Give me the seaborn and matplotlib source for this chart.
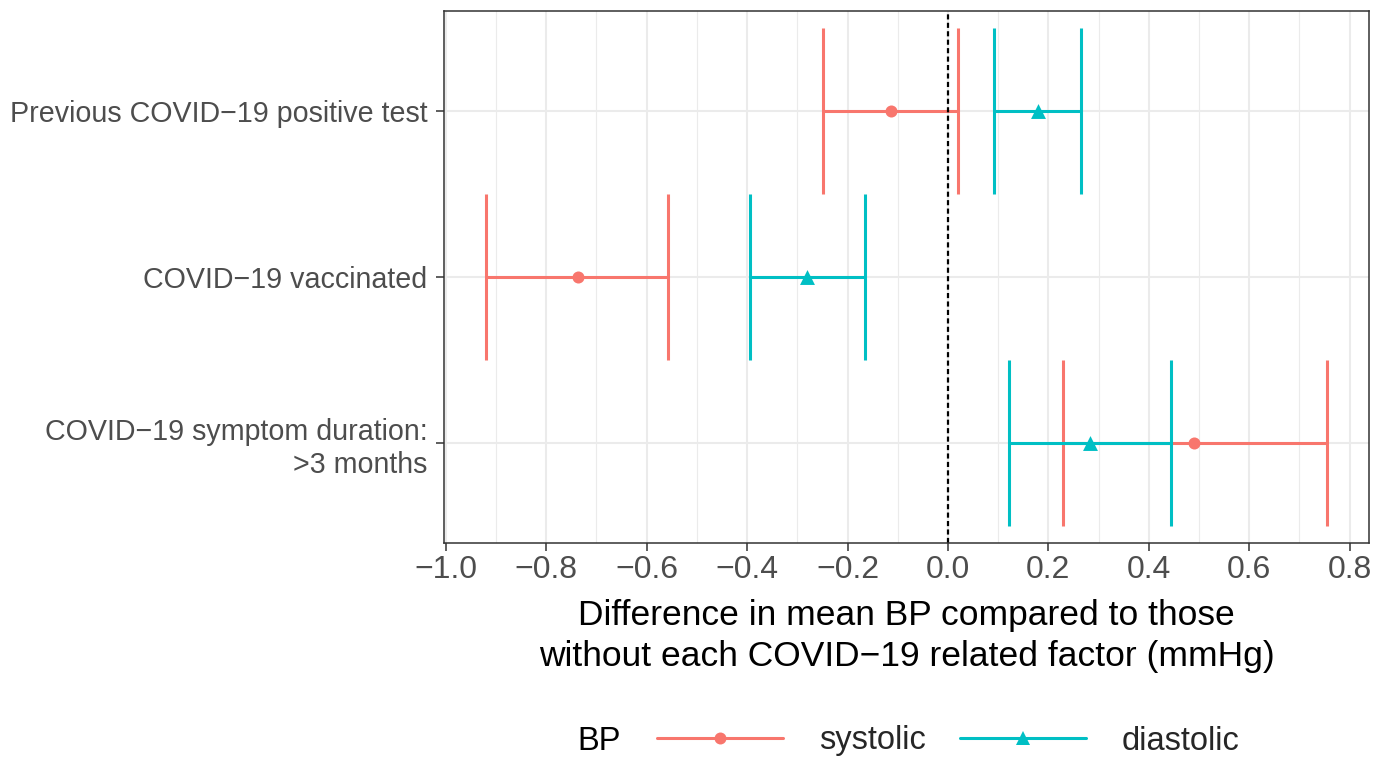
import matplotlib
matplotlib.use("Agg")
import matplotlib.pyplot as plt
from matplotlib.lines import Line2D
from matplotlib.ticker import MultipleLocator, FuncFormatter
import numpy as np
import pandas as pd
import seaborn as sns

# data
factors = ["Previous COVID\u221219 positive test",
           "COVID\u221219 vaccinated",
           "COVID\u221219 symptom duration:\n>3 months"]
sys_est = [-0.114, -0.737, 0.491]
sys_lo = [-0.249, -0.920, 0.229]
sys_hi = [0.020, -0.558, 0.755]
dia_est = [0.179, -0.281, 0.283]
dia_lo = [0.092, -0.395, 0.121]
dia_hi = [0.265, -0.166, 0.445]
bp_levels = ["systolic", "diastolic"]

df = pd.concat([
    pd.DataFrame({"factor": factors, "est": sys_est, "lo": sys_lo, "hi": sys_hi, "BP": "systolic"}),
    pd.DataFrame({"factor": factors, "est": dia_est, "lo": dia_lo, "hi": dia_hi, "BP": "diastolic"}),
], ignore_index=True)
df["ypos"] = df["factor"].map({f: i for i, f in enumerate(factors)})

colors = {"systolic": "#F8766D", "diastolic": "#00BFC4"}
markers = {"systolic": "o", "diastolic": "^"}
msize = {"systolic": 75, "diastolic": 115}

sns.set_theme(style="whitegrid")
plt.rcParams["font.family"] = ["Liberation Sans", "DejaVu Sans"]

fig = plt.figure(figsize=(13.86, 7.59), dpi=100)
ax = fig.add_axes([444 / 1386, 1 - 543 / 759, (1369 - 444) / 1386, (543 - 11) / 759])
ax.set_facecolor("white")

# error bars (systolic first so diastolic sits on top)
for bp in bp_levels:
    sub = df[df["BP"] == bp]
    ax.hlines(sub["ypos"], sub["lo"], sub["hi"], color=colors[bp], lw=2.2, zorder=3)
    ax.vlines(sub["lo"], sub["ypos"] - 0.5, sub["ypos"] + 0.5, color=colors[bp], lw=2.2, zorder=3)
    ax.vlines(sub["hi"], sub["ypos"] - 0.5, sub["ypos"] + 0.5, color=colors[bp], lw=2.2, zorder=3)

ax.axvline(0, color="black", lw=1.6, linestyle=(0, (2.3, 1.5)), zorder=4)

for bp in bp_levels:
    sns.scatterplot(data=df[df["BP"] == bp], x="est", y="ypos", color=colors[bp],
                    marker=markers[bp], s=msize[bp], linewidth=0, legend=False, ax=ax, zorder=5)

# scales like ggplot: 5% continuous expansion, 0.6 discrete
xmin, xmax = df["lo"].min(), df["hi"].max()
pad = 0.05 * (xmax - xmin)
ax.set_xlim(xmin - pad, xmax + pad)
ax.set_ylim(len(factors) - 1 + 0.6, -0.6)

ax.xaxis.set_major_locator(MultipleLocator(0.2))
ax.xaxis.set_minor_locator(MultipleLocator(0.1))
ax.xaxis.set_major_formatter(FuncFormatter(lambda v, p: f"{round(v, 1) + 0.0:.1f}".replace("-", "\u2212")))
ax.set_yticks(range(len(factors)))
ax.set_yticklabels(factors)

ax.grid(which="major", color="#EBEBEB", lw=1.5, zorder=0)
ax.grid(which="minor", axis="x", color="#EBEBEB", lw=0.8, zorder=0)
ax.set_axisbelow(True)
for s in ax.spines.values():
    s.set_color("#333333")
    s.set_linewidth(1.1)
    s.set_zorder(6)

ax.tick_params(axis="x", which="major", length=6, width=1.1, color="#333333",
               labelsize=23, labelcolor="#4D4D4D", pad=3, bottom=True)
ax.tick_params(axis="x", which="minor", length=0)
ax.tick_params(axis="y", length=6, width=1.1, color="#333333",
               labelsize=20.6, labelcolor="#4D4D4D", pad=6, left=True)

ax.set_xlabel("Difference in mean BP compared to those\nwithout each COVID\u221219 related factor (mmHg)",
              fontsize=25.5, color="black", labelpad=10, linespacing=1.3)
ax.set_ylabel("")

# legend along the bottom, title at left
fig.text(577 / 1386, 1 - 741 / 759, "BP", fontsize=23.5, color="black", ha="left", va="center")
handles = [Line2D([], [], color=colors[bp], lw=2.2, marker=markers[bp],
                  markersize=8.6 if bp == "systolic" else 10.5, markeredgewidth=0) for bp in bp_levels]
fig.legend(handles, bp_levels, ncol=2, loc="center left", bbox_to_anchor=(657 / 1386, 1 - 741 / 759),
           frameon=False, fontsize=23.5, handlelength=3.86, handletextpad=1.1, columnspacing=1.04,
           borderpad=0, borderaxespad=0)

fig.savefig("out.png", dpi=100)
